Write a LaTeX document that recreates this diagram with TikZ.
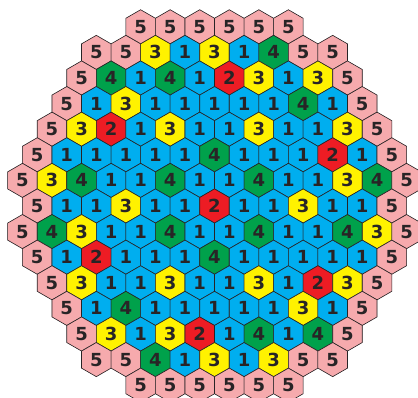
\documentclass[tikz,border=0pt]{standalone}
\usepackage{fontspec}
\newfontfamily\digitfont{DejaVu Sans}
\definecolor{cpink}{RGB}{246,170,173}
\definecolor{cyellow}{RGB}{255,242,0}
\definecolor{cblue}{RGB}{0,174,239}
\definecolor{cgreen}{RGB}{0,161,75}
\definecolor{cred}{RGB}{237,28,36}
\definecolor{cdark}{RGB}{40,36,38}
\definecolor{cshadow}{RGB}{120,120,120}
\def\hexR{17.06}
\tikzset{
  hexpath/.style={line join=miter},
  hexcell/.style={hexpath, draw=cdark, line width=0.6pt},
  hexshadow/.style={hexpath, fill=cshadow},
  digit/.style={inner sep=0pt, text=cdark,
    font=\digitfont\bfseries\fontsize{18}{18}\selectfont},
  v1/.style={fill=cblue},
  v2/.style={fill=cred},
  v3/.style={fill=cyellow},
  v4/.style={fill=cgreen},
  v5/.style={fill=cpink},
}
\begin{document}
\begin{tikzpicture}[x=1pt,y=-1pt]
\useasboundingbox (0,0) rectangle (418,398);
\def\gridrows{0/6/{5,5,5,5,5,5},
1/9/{5,5,3,1,3,1,4,5,5},
2/10/{5,4,1,4,1,2,3,1,3,5},
3/11/{5,1,3,1,1,1,1,1,4,1,5},
4/12/{5,3,2,1,3,1,1,3,1,1,3,5},
5/13/{5,1,1,1,1,1,4,1,1,1,2,1,5},
6/14/{5,3,4,1,1,4,1,1,4,1,1,3,4,5},
7/13/{5,1,1,3,1,1,2,1,1,3,1,1,5},
8/14/{5,4,3,1,1,4,1,1,4,1,1,4,3,5},
9/13/{5,1,2,1,1,1,4,1,1,1,1,1,5},
10/12/{5,3,1,1,3,1,1,3,1,2,3,5},
11/11/{5,1,4,1,1,1,1,1,3,1,5},
12/10/{5,3,1,3,2,1,4,1,4,5},
13/9/{5,5,4,1,3,1,3,5,5},
14/6/{5,5,5,5,5,5}}
% cell centres
\foreach \r/\n/\vals in \gridrows {
  \foreach \v [count=\i from 0] in \vals {
    \coordinate (c-\r-\i) at ({214.5+(\i-(\n-1)/2)*29.55}, {26.8+\r*25.6});
  }
}
% shadow pass
\foreach \r/\n/\vals in \gridrows {
  \foreach \v [count=\i from 0] in \vals {
    \fill[hexshadow, shift={(1.3,1.1)}]
      ([shift={(30:\hexR)}]c-\r-\i) -- ([shift={(90:\hexR)}]c-\r-\i) --
      ([shift={(150:\hexR)}]c-\r-\i) -- ([shift={(210:\hexR)}]c-\r-\i) --
      ([shift={(270:\hexR)}]c-\r-\i) -- ([shift={(330:\hexR)}]c-\r-\i) -- cycle;
  }
}
% cells
\foreach \r/\n/\vals in \gridrows {
  \foreach \v [count=\i from 0] in \vals {
    \draw[hexcell, v\v]
      ([shift={(30:\hexR)}]c-\r-\i) -- ([shift={(90:\hexR)}]c-\r-\i) --
      ([shift={(150:\hexR)}]c-\r-\i) -- ([shift={(210:\hexR)}]c-\r-\i) --
      ([shift={(270:\hexR)}]c-\r-\i) -- ([shift={(330:\hexR)}]c-\r-\i) -- cycle;
    \node[digit] (t-\r-\i) at (c-\r-\i) {\v};
  }
}
\end{tikzpicture}
\end{document}
